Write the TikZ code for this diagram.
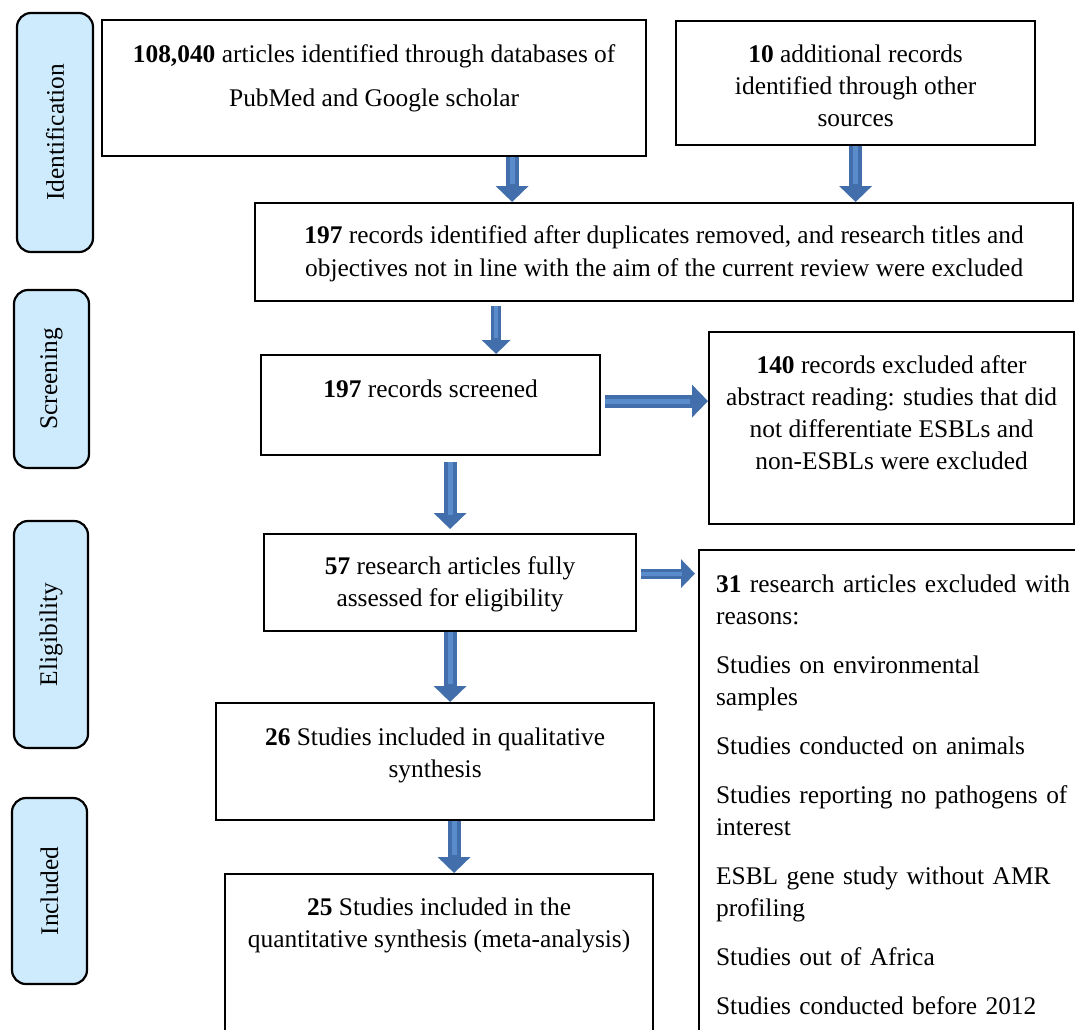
\documentclass[tikz,border=0pt]{standalone}
\usepackage{fontspec}
\setmainfont{Liberation Serif}
\usetikzlibrary{arrows.meta,calc,positioning}
\definecolor{sideblue}{RGB}{205,235,252}
\definecolor{arrowblue}{RGB}{66,111,172}
\definecolor{arrowlight}{RGB}{90,140,204}
\tikzset{every picture/.style={/utils/exec={\fontsize{12.7}{16}\selectfont}}}

\begin{document}
\begin{tikzpicture}[
	x=0.5pt, y=-0.5pt,
	box/.style={draw, line width=1.1pt, align=center, inner xsep=2pt, inner ysep=0pt, anchor=north west},
	tb/.style 2 args={text height=#1, text depth=#2},
	sidelab/.style={draw, line width=1.1pt, fill=sideblue, rounded corners=7pt, rotate=90, inner sep=0pt},
	flow/.style={draw=arrowblue, line width=6.5pt, -{Triangle[width=16pt,length=8pt]}, postaction={draw=arrowlight, line width=2.5pt, shorten >=9pt, -}},
	thinflow/.style={draw=arrowblue, line width=5pt, -{Triangle[width=14pt,length=7pt]}, postaction={draw=arrowlight, line width=2pt, shorten >=8pt, -}},
	]
	\useasboundingbox (0,0) rectangle (1075,1029);

	%stages
	\node[sidelab, minimum width=119.5pt, minimum height=38pt] (idlab) at (55,132.5) {Identification};
	\node[sidelab, minimum width=89pt, minimum height=37.5pt] (scrlab) at (51.5,379) {Screening};
	\node[sidelab, minimum width=113.5pt, minimum height=37pt] (elilab) at (51,634.5) {Eligibility};
	\node[sidelab, minimum width=93pt, minimum height=37.5pt] (inclab) at (49.5,891) {Included};

	%identification
	\node[box, minimum width=272pt, tb={43pt}{25pt}, font=\fontsize{12.7}{22}\selectfont] (dbbox) at (101,19) {\textbf{108,040} articles identified through databases of\\PubMed and Google scholar};
	\node[box, minimum width=179.5pt, tb={52.5pt}{9.5pt}] (otherbox) at (675,20) {\textbf{10} additional records\\identified through other\\sources};
	\node[box, minimum width=409pt, tb={36.5pt}{12.5pt}, font=\fontsize{12.7}{16.5}\selectfont] (dupbox) at (254,202) {\textbf{197} records identified after duplicates removed, and research titles and\\objectives not in line with the aim of the current review were excluded};

	%screening
	\node[box, minimum width=169.5pt, tb={21pt}{29pt}] (screenbox) at (260,354) {\textbf{197} records screened};
	\node[box, minimum width=182.5pt, tb={68.5pt}{27.5pt}] (absbox) at (708,331) {\textbf{140} records excluded after\\abstract reading: studies that did\\not differentiate ESBLs and\\non-ESBLs were excluded};

	%eligibility
	\node[box, minimum width=186pt, tb={36pt}{12.5pt}] (fullbox) at (263,533) {\textbf{57} research articles fully\\assessed for eligibility};
	\node[box, align=left, text width=200pt, inner xsep=8.5pt, tb={21pt}{225pt}] (reasonbox) at (698,549) {\textbf{31} research articles excluded with\\reasons:\\[8.5pt]
		Studies on environmental\\samples\\[8.5pt]
		Studies conducted on animals\\[8.5pt]
		Studies reporting no pathogens of\\interest\\[8.5pt]
		ESBL gene study without AMR\\profiling\\[8.5pt]
		Studies out of Africa\\[8.5pt]
		Studies conducted before 2012};

	%included
	\node[box, minimum width=219pt, tb={37pt}{21.5pt}] (qualbox) at (215,702) {\textbf{26} Studies included in qualitative\\synthesis};
	\node[box, minimum width=214pt, tb={36.5pt}{44.5pt}] (quantbox) at (224,873) {\textbf{25} Studies included in the\\quantitative synthesis (meta-analysis)};

	%block arrows
	\draw[flow] ([xshift=69pt]dbbox.south) -- ([xshift=69pt]dbbox.south |- dupbox.north);
	\draw[flow] (otherbox.south) -- (otherbox.south |- dupbox.north);
	\draw[thinflow, shorten <=2pt] ([xshift=-84pt]dupbox.south) -- ([xshift=-84pt]dupbox.south |- screenbox.north);
	\draw[flow, shorten <=2pt] ([yshift=2pt]screenbox.east) -- ([yshift=2pt]screenbox.east -| absbox.west);
	\draw[flow, shorten <=3pt, shorten >=2pt] (fullbox.north |- screenbox.south) -- (fullbox.north);
	\draw[thinflow, shorten <=2pt, shorten >=1.5pt] ([yshift=4.5pt]fullbox.east) -- ([yshift=4.5pt]fullbox.east -| reasonbox.west);
	\draw[flow] (fullbox.south) -- (fullbox.south |- qualbox.north);
	\draw[flow] ([xshift=7.5pt]quantbox.north |- qualbox.south) -- ([xshift=7.5pt]quantbox.north);

\end{tikzpicture}
\end{document}
